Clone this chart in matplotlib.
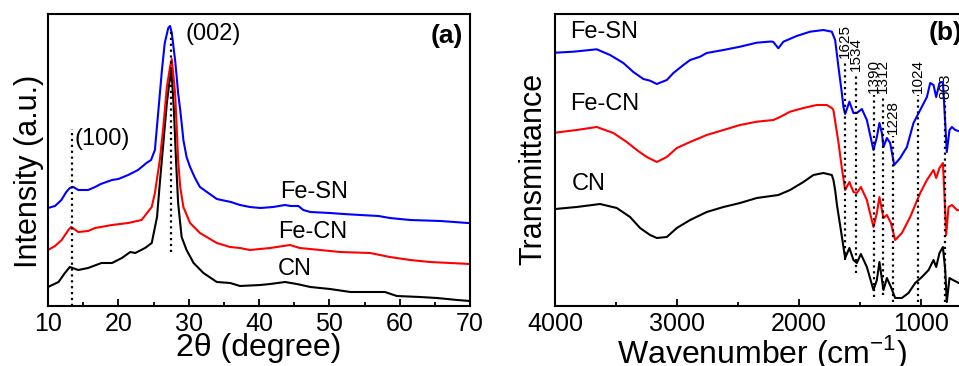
import matplotlib
matplotlib.use("Agg")
import matplotlib.pyplot as plt
from matplotlib.ticker import MultipleLocator

plt.rcParams['font.family'] = ['Liberation Sans', 'DejaVu Sans']

# ---------------- XRD data (panel a) ----------------
xrd_fesn_x = [10.0, 11.0, 11.9, 12.6, 13.1, 13.6, 14.3, 15.0, 15.7, 16.7, 17.5, 19.1, 20.0, 21.4,
              22.8, 24.0, 24.65, 25.2, 25.7, 26.2, 26.6, 27.1, 27.35, 27.6, 28.07, 28.3, 28.5,
              28.8, 29.0, 29.25, 29.7, 30.2, 30.9, 31.6, 34.0, 36.0, 37.3, 38.7, 40.2, 42.0,
              43.7, 44.5, 45.6, 46.3, 47.3, 50.1, 52.0, 54.4, 57.0, 58.6, 61.5, 65.8, 69.7, 70.0]
xrd_fesn_y = [98, 100, 106, 114, 118, 119, 116, 116, 116, 119, 122, 126, 127, 131,
              136, 143, 146, 156, 196, 236, 263, 278, 280, 273, 246, 229, 213,
              196, 183, 166, 149, 139, 128, 119, 107, 104, 101, 99, 98, 99,
              101, 100, 100, 96, 94, 93, 92, 91, 90, 88, 86, 85, 83, 83]

xrd_fecn_x = [10.0, 11.0, 11.95, 12.9, 13.3, 14.3, 15.7, 16.7, 19.1, 21.4, 23.3, 24.75, 25.2,
              25.9, 26.4, 26.9, 27.35, 27.6, 28.07, 28.3, 28.5, 28.8, 29.25, 30.2, 31.6, 34.0,
              35.9, 37.3, 38.7, 41.6, 44.4, 45.8, 48.7, 51.5, 55.8, 58.6, 61.5, 64.3, 67.2, 70.0]
xrd_fecn_y = [56, 60, 66, 76, 79, 74, 75, 78, 81, 83, 86, 99, 113,
              146, 179, 219, 239, 247, 213, 179, 146, 119, 99, 83, 73, 63,
              59, 58, 56, 58, 61, 58, 56, 54, 53, 49, 46, 44, 43, 42]

xrd_cn_x = [10.0, 11.5, 12.4, 13.1, 14.3, 15.7, 17.6, 19.1, 20.5, 21.7, 22.4, 23.8, 24.75, 25.5,
            25.9, 26.4, 26.9, 27.35, 27.55, 27.9, 28.2, 28.5, 29.0, 29.7, 30.7, 32.1, 34.0,
            35.9, 37.3, 40.2, 41.6, 43.7, 45.4, 47.3, 50.1, 53.0, 56.2, 57.9, 59.6, 62.9,
            65.3, 68.2, 70.0]
xrd_cn_y = [19, 24, 33, 39, 36, 38, 43, 43, 48, 54, 53, 58, 63, 89,
            123, 163, 203, 229, 236, 196, 146, 103, 69, 56, 43, 33, 24,
            23, 20, 21, 22, 24, 22, 19, 17, 14, 14, 14, 10, 9,
            8, 6, 5]

xrd_ticks = [10, 20, 30, 40, 50, 60, 70]
xrd_peaks = [13.4, 27.5]
xrd_peak_labels = ["(100)", "(002)"]

# ---------------- FTIR data (panel b) ----------------
ftir_fesn_x = [4000, 3850, 3658, 3549, 3440, 3358, 3276, 3221, 3166, 3084, 3030, 2948, 2893, 2811,
               2757, 2620, 2484, 2347, 2230, 2211, 2170, 2129, 2020, 1910, 1801, 1732, 1705, 1678,
               1650, 1637, 1623, 1588, 1555, 1527, 1486, 1445, 1391, 1363, 1342, 1322, 1309, 1281,
               1254, 1221, 1172, 1117, 1063, 1008, 953, 926, 899, 877, 850, 822, 803, 790, 768,
               748, 721, 694, 650, 600]
ftir_fesn_y = [253.3, 254.3, 256.7, 251, 243, 234, 227, 225.3, 222, 226, 233, 241, 246, 249.3,
               253, 256, 259.3, 263.3, 264.5, 264, 257.7, 264.3, 270, 274.3, 276, 274.3, 266, 239.3,
               213, 199, 192, 204.3, 193, 193, 197, 186, 156, 169, 183, 173, 159, 168,
               163, 141, 148, 159, 183, 196, 209, 223, 221, 209, 223, 224.3, 183, 154, 176,
               179, 176, 175, 174, 174]

ftir_fecn_x = [4000, 3822, 3658, 3522, 3412, 3330, 3248, 3166, 3084, 3002, 2893, 2757, 2620, 2484,
               2347, 2211, 2156, 2074, 1965, 1855, 1773, 1732, 1719, 1700, 1678, 1650, 1623, 1588,
               1555, 1527, 1494, 1445, 1391, 1363, 1342, 1309, 1281, 1248, 1213, 1158, 1090, 1008,
               953, 899, 877, 850, 822, 811, 795, 776, 748, 707, 650, 600]
ftir_fecn_y = [173.3, 176, 179, 173, 164, 156, 149, 144, 149, 158, 164, 171, 176, 181,
               184.3, 186, 189, 194.3, 198, 201, 201, 198, 196, 181, 164, 138, 116, 124,
               114, 113, 119, 106, 79, 93, 109, 88, 91, 83, 66, 73, 89, 113,
               126, 136, 128, 138, 143, 116, 71, 99, 101, 96, 95, 95]

ftir_cn_x = [4000, 3822, 3631, 3494, 3385, 3303, 3221, 3166, 3084, 3002, 2893, 2757, 2620, 2484,
             2347, 2170, 2074, 1965, 1883, 1801, 1732, 1719, 1705, 1690, 1658, 1623, 1588, 1555,
             1527, 1494, 1445, 1391, 1363, 1342, 1309, 1281, 1248, 1213, 1158, 1104, 1049, 994,
             939, 899, 877, 850, 822, 803, 790, 768, 740, 707, 694, 650, 600]
ftir_cn_y = [97, 99, 102, 98, 89, 78, 71, 68, 69, 78, 86, 94, 99, 103,
             108, 111, 116, 124, 131, 133, 131, 126, 116, 101, 76, 48, 58, 46,
             43, 52, 39, 16, 26, 44, 16, 28, 19, 8, 8, 13, 23, 29,
             36, 46, 39, 53, 59, 36, 4, 28, 26, 24, 23, 22, 22]

ftir_ticks = [4000, 3000, 2000, 1000]
ftir_bands = [1625, 1534, 1390, 1312, 1228, 1024, 803]
ftir_band_labels = ["1625", "1534", "1390", "1312", "1228", "1024", "803"]
ftir_band_top = [248, 235, 213, 213, 172, 213, 207]
ftir_band_bottom = [46, 33, 9, 11, 4, 4, 4]

# ---------------- figure ----------------
W, H = 959, 366
fig = plt.figure(figsize=(W / 100, H / 100), dpi=100)

bottom = (H - 306) / H
height = (306 - 13.5) / H
axa = fig.add_axes([48 / W, bottom, 422 / W, height])
axb = fig.add_axes([555 / W, bottom, 415 / W, height])

lw = 1.5
for ax in (axa, axb):
    for s in ax.spines.values():
        s.set_linewidth(1.5)
    ax.set_yticks([])
    ax.tick_params(axis='x', which='both', direction='in', top=False, width=1.3,
                   labelsize=18, pad=4)
    ax.tick_params(axis='x', which='major', length=5)
    ax.tick_params(axis='x', which='minor', length=3)

# panel a
axa.plot(xrd_cn_x, xrd_cn_y, color='black', lw=lw)
axa.plot(xrd_fecn_x, xrd_fecn_y, color='#ff0000', lw=lw)
axa.plot(xrd_fesn_x, xrd_fesn_y, color='#0000ff', lw=lw)
axa.vlines(xrd_peaks[0], 0, 177, colors='black', linestyles=':', lw=1.6)
axa.vlines(xrd_peaks[1], 54, 276, colors='black', linestyles=':', lw=1.6)
axa.set_xlim(10, 70)
axa.set_ylim(0, 292.5)
axa.set_xticks(xrd_ticks)
axa.xaxis.set_minor_locator(MultipleLocator(5))
axa.set_xlabel("2θ (degree)", fontsize=23, labelpad=-1.5)
axa.set_ylabel("Intensity (a.u.)", fontsize=22, labelpad=3)
axa.yaxis.label.set_y(0.46)
axa.text(13.8, 161, xrd_peak_labels[0], fontsize=17)
axa.text(29.5, 266, xrd_peak_labels[1], fontsize=17)
axa.text(43.0, 108, "Fe-SN", fontsize=17)
axa.text(42.7, 68, "Fe-CN", fontsize=17)
axa.text(42.7, 31, "CN", fontsize=17)
axa.text(0.983, 0.90, "(a)", transform=axa.transAxes, ha='right', fontsize=19,
         fontweight='bold')

# panel b
axb.plot(ftir_cn_x, ftir_cn_y, color='black', lw=lw)
axb.plot(ftir_fecn_x, ftir_fecn_y, color='#ff0000', lw=lw)
axb.plot(ftir_fesn_x, ftir_fesn_y, color='#0000ff', lw=lw)
for wn, lab, top, bot in zip(ftir_bands, ftir_band_labels, ftir_band_top, ftir_band_bottom):
    axb.vlines(wn, bot, top - 2, colors='black', linestyles=':', lw=1.6)
    axb.text(wn, top, lab, rotation=90, ha='center', va='bottom', fontsize=11)
axb.set_xlim(4000, 600)
axb.set_ylim(0, 292.5)
axb.set_xticks(ftir_ticks)
axb.xaxis.set_minor_locator(MultipleLocator(500))
axb.set_xlabel("Wavenumber (cm$^{\\mathregular{-1}}$)", fontsize=23, labelpad=-1.5)
axb.set_ylabel("Transmittance", fontsize=22, labelpad=5)
axb.yaxis.label.set_y(0.47)
axb.text(3877, 268, "Fe-SN", fontsize=17)
axb.text(3877, 196, "Fe-CN", fontsize=17)
axb.text(3861, 116, "CN", fontsize=17)
axb.text(0.983, 0.908, "(b)", transform=axb.transAxes, ha='right', fontsize=19,
         fontweight='bold')

fig.savefig("out.png", dpi=100)
